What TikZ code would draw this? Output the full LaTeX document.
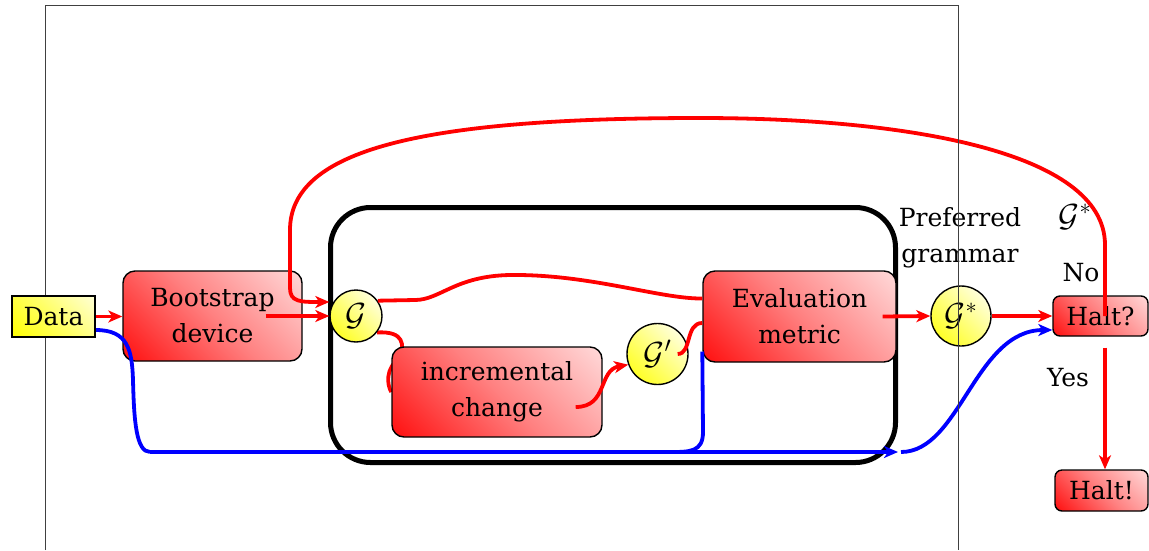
\RequirePackage{fix-cm}
\documentclass[tikz,border=0pt]{standalone}
\usepackage{fontspec}
\setmainfont{DejaVu Serif}
\usetikzlibrary{arrows.meta,calc,backgrounds}
\pgfdeclarelayer{front}
\pgfsetlayers{background,main,front}

% diagonal fades used for the boxes (corner to corner)
\pgfdeclarehorizontalshading{redfade}{100bp}{color(0bp)=(red!95); color(14bp)=(red!95);
  color(50bp)=(red!50); color(86bp)=(red!14); color(100bp)=(red!14)}
\pgfdeclarehorizontalshading{yelfade}{100bp}{color(0bp)=(yellow); color(14bp)=(yellow);
  color(50bp)=(yellow!60); color(86bp)=(yellow!15); color(100bp)=(yellow!15)}
\pgfdeclarehorizontalshading{yelball}{100bp}{color(0bp)=(yellow); color(25bp)=(yellow!85);
  color(50bp)=(yellow!50); color(75bp)=(yellow!14); color(100bp)=(yellow!14)}

\tikzset{
  lbl/.style={font=\fontsize{25}{36}\selectfont, align=center, inner sep=0pt},
  sym/.style={font=\fontsize{32}{36}\selectfont, inner sep=0pt},
  box/.style={lbl, draw=black, line width=1.4pt},
  redbox/.style={box, rounded corners=12pt, shade, shading=redfade, shading angle=45},
  yelbox/.style={box, shade, shading=yelfade, shading angle=45},
  gram/.style={box, sym, circle, minimum size=#1, shade, shading=yelball, shading angle=45},
  flow/.style={red, line width=3.8pt},
  feed/.style={blue, line width=3.8pt},
  arr/.style={-{Stealth[length=14pt,width=12pt,inset=4pt]}},
}

\begin{document}
\begin{tikzpicture}[x=1pt,y=1pt]
\useasboundingbox (0,0) rectangle (1149,-550);

% processing boxes and grammar nodes
\node[redbox, minimum width=179pt, minimum height=90pt] (boot) at (212.5,-316) {Bootstrap\\device};
\node[gram=52pt] (G) at (356,-316) {$\mathcal{G}$};
\node[redbox, minimum width=210pt, minimum height=90pt] (inc) at (497,-392) {incremental\\change};
\node[gram=61pt] (Gp) at (657.5,-354) {$\mathcal{G}'$};
\node[redbox, minimum width=193pt, minimum height=91pt] (ev) at (799.5,-316.5) {Evaluation\\metric};
\node[gram=60pt] (Gs) at (961,-316) {$\mathcal{G}^*$};
\node[redbox, rounded corners=7pt, minimum width=95pt, minimum height=40pt] (hq) at (1100.5,-316) {Halt?};
\node[redbox, rounded corners=7pt, minimum width=93pt, minimum height=41pt] (hh) at (1101.5,-490.5) {Halt!};

\begin{pgfonlayer}{front}
\node[yelbox, minimum width=83pt, minimum height=41pt] (data) at (53.5,-316.5) {Data};
\end{pgfonlayer}

% free labels
\node[lbl] (pg) at (960,-238) {Preferred\\grammar};
\node[sym] (gsl) at (1075,-217) {$\mathcal{G}^*$};
\node[lbl] (no) at (1081,-273) {No};
\node[lbl] (yes) at (1068,-378) {Yes};

% the learning loop and the hidden path into the change step
\begin{pgfonlayer}{background}
\node[draw, line width=5pt, rounded corners=40pt, inner sep=0pt,
      minimum width=565pt, minimum height=255pt] (loop) at (613,-335) {};
\draw[flow] (G.-38) .. controls (405,-331) and (404,-345) .. (400,-358)
  .. controls (385,-368) and (387,-385) .. (inc.west);
\end{pgfonlayer}

% junction points of the data line
\coordinate (j1) at (150,-452);
\coordinate (j2) at (898,-452);
\coordinate (j3) at (670,-452);

% red grammar flow
\draw[flow,arr] (data.east) -- (data.east -| boot.west);
\draw[flow,arr] ([xshift=-37pt]boot.east) -- (G.west);
\draw[flow,arr] ([xshift=4.5pt]hq.center) -- (1105,-245)
  .. controls (1105,-150) and (900,-118) .. (700,-118)
  .. controls (420,-118) and (290,-150) .. (290,-230) -- (290,-288)
  .. controls (290,-302) and (300,-302) .. ([yshift=14pt]G.west);
\draw[flow] (G.35) -- (415,-300) .. controls (440,-300) and (455,-276) .. (510,-275)
  .. controls (590,-274) and (660,-299) .. ([yshift=18pt]ev.west);
\draw[flow,arr] ([xshift=-27pt,yshift=-15pt]inc.east) .. controls (608,-407) and (598,-370) .. (Gp.200);
\draw[flow] ([xshift=-11pt]Gp.east) .. controls (692,-354) and (685,-323) .. ([yshift=-6.5pt]ev.west);
\draw[flow,arr] ([xshift=-14pt]ev.east) -- (Gs.west);
\draw[flow,arr] (Gs.east) -- (hq.west);
\draw[flow,arr] ([xshift=4.5pt,yshift=-11pt]hq.south) -- ([xshift=3.5pt]hh.north);

% blue data line
\draw[feed] ([yshift=-13.5pt]data.east) .. controls (128,-330) and (132,-350) .. (133,-380)
  .. controls (134,-420) and (136,-452) .. (j1);
\draw[feed,arr] (j1) -- (j2);
\draw[feed,arr] ([xshift=3pt]j2) .. controls (960,-452) and (975,-330) .. ([yshift=-14pt]hq.west);
\draw[feed] ([yshift=-35pt]ev.west) -- (703,-432) .. controls (703,-452) and (690,-452) .. (j3);

% outer frame
\draw[line width=1pt, black!75] (45,-550) -- (45,-5) -- (958,-5) -- (958,-550);
\end{tikzpicture}
\end{document}
